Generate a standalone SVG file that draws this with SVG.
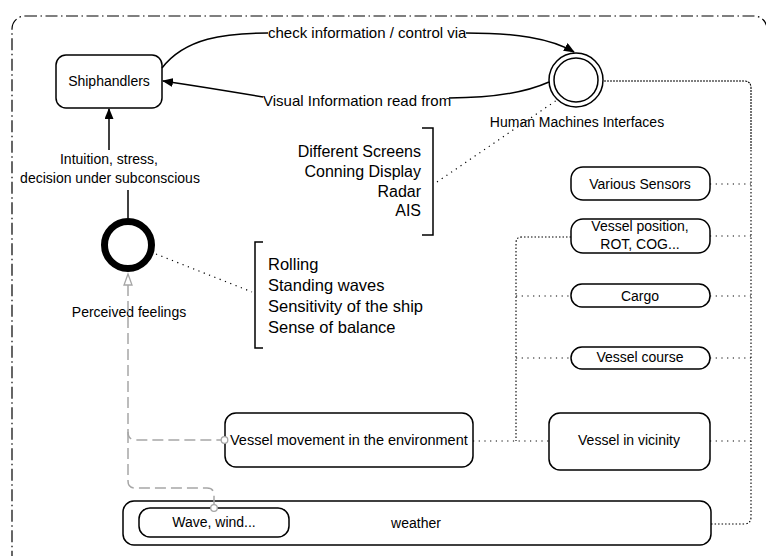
<svg xmlns="http://www.w3.org/2000/svg" width="766" height="556" viewBox="0 0 766 556">
<defs>
<style>
.t{font-family:"Liberation Sans",Arial,sans-serif;font-size:14px;fill:#000}
.c{text-anchor:middle}
.box{fill:#fff;stroke:#000;stroke-width:1.5}
.ln{fill:none;stroke:#000;stroke-width:1.5}
.dot{fill:none;stroke:#000;stroke-width:1.2;stroke-dasharray:1.2,4.5}
.trunk{fill:none;stroke:#000;stroke-width:1.1;stroke-dasharray:1.5,2}
.gray{fill:none;stroke:#a6a6a6;stroke-width:1.5;stroke-dasharray:11,5}
</style>
<marker id="ah" markerUnits="userSpaceOnUse" markerWidth="11" markerHeight="9" refX="10" refY="4.5" orient="auto">
<path d="M0,0 L11,4.5 L0,9 z" fill="#000"/>
</marker>
</defs>
<rect width="766" height="556" fill="#fff"/>
<rect id="frame" x="12" y="16" width="755" height="620" rx="13" fill="none" stroke="#000" stroke-width="1.2" stroke-dasharray="12,3.5,1.5,3.5"/>

<g id="shiphandlers">
<rect class="box" x="56" y="55" width="106" height="53" rx="10"/>
<text class="t c" x="109" y="86">Shiphandlers</text>
</g>

<g id="hmi">
<circle cx="576" cy="80" r="27" fill="#fff" stroke="#000" stroke-width="1.5"/>
<circle cx="576" cy="80" r="22" fill="none" stroke="#000" stroke-width="1.5"/>
<text class="t c" x="577" y="127">Human Machines Interfaces</text>
</g>

<g id="labels">
<text class="t" x="268" y="38" style="font-size:15px">check information / control via</text>
<text class="t" x="263" y="106" style="font-size:15px">Visual Information read from</text>
<text class="t c" x="109" y="164">Intuition, stress,</text>
<text class="t c" x="110" y="183">decision under subconscious</text>
</g>

<g id="perceived">
<circle cx="128" cy="245" r="23.5" fill="#fff" stroke="#000" stroke-width="7"/>
<text class="t c" x="129" y="317">Perceived feelings</text>
</g>

<g id="hmi-list">
<path class="ln" d="M422,128 H433 V235 H422"/>
<text class="t" style="font-size:16px;text-anchor:end" x="421"><tspan x="421" y="157">Different Screens</tspan><tspan x="421" y="177">Conning Display</tspan><tspan x="421" y="197">Radar</tspan><tspan x="421" y="216">AIS</tspan></text>
</g>

<g id="feel-list">
<path class="ln" d="M263,242 H255 V348 H263"/>
<text class="t" style="font-size:16.5px"><tspan x="268" y="270">Rolling</tspan><tspan x="268" y="291">Standing waves</tspan><tspan x="268" y="312">Sensitivity of the ship</tspan><tspan x="268" y="333">Sense of balance</tspan></text>
</g>

<g id="various-sensors">
<rect class="box" x="571" y="167" width="139" height="33" rx="12"/>
<text class="t c" x="640" y="189">Various Sensors</text>
</g>
<g id="vessel-position">
<rect class="box" x="571" y="219" width="139" height="34" rx="12"/>
<text class="t c" x="640" y="231">Vessel position,</text>
<text class="t c" x="640" y="249">ROT, COG...</text>
</g>
<g id="cargo">
<rect class="box" x="571" y="284" width="139" height="23" rx="11"/>
<text class="t c" x="640" y="301">Cargo</text>
</g>
<g id="vessel-course">
<rect class="box" x="571" y="347" width="139" height="22" rx="11"/>
<text class="t c" x="640" y="362">Vessel course</text>
</g>
<g id="vessel-movement">
<rect class="box" x="225" y="413" width="248" height="54" rx="11"/>
<text class="t" x="230" y="445" style="font-size:14.5px">Vessel movement in the environment</text>
</g>
<g id="vessel-vicinity">
<rect class="box" x="549" y="413" width="161" height="57" rx="11"/>
<text class="t c" x="629" y="445">Vessel in vicinity</text>
</g>
<g id="weather">
<rect class="box" x="123" y="501" width="588" height="44" rx="11"/>
<text class="t c" x="416" y="528">weather</text>
</g>
<g id="wave-wind">
<rect class="box" x="139" y="508" width="150" height="29" rx="11"/>
<text class="t c" x="214" y="527">Wave, wind...</text>
</g>

<g id="connectors">
<path class="ln" d="M162,68 C185,38 225,33 268,33"/>
<path class="ln" d="M466,33 C515,33 550,38 574,52" marker-end="url(#ah)"/>
<path class="ln" d="M549,82 C520,95 480,98 449,98"/>
<path class="ln" d="M263,97 Q210,88 163,81" marker-end="url(#ah)"/>
<path class="ln" d="M109,150 V109" marker-end="url(#ah)"/>
<path class="ln" d="M128,190 V218"/>
<path class="dot" d="M437,182 L557,100"/>
<path class="dot" d="M156,254 L252,292"/>
<path class="gray" d="M128,285 V432 Q128,440 136,440 H221"/>
<path class="gray" d="M128,432 V481 Q128,488 135,488 H207 Q214,488 214,495 V505"/>
<path d="M128,274 L124,285 L132,285 z" fill="#fff" stroke="#a6a6a6" stroke-width="1.3"/>
<circle cx="224.5" cy="440" r="3.3" fill="#fff" stroke="#a6a6a6" stroke-width="1.3"/>
<circle cx="214" cy="508" r="3.3" fill="#fff" stroke="#a6a6a6" stroke-width="1.3"/>
<path fill="none" stroke="#000" stroke-width="1.1" stroke-dasharray="2,1" d="M604,81 H744 Q751,81 751,88 V150"/>
<path class="trunk" d="M751,150 V517 Q751,524 744,524 H711"/>
<path class="dot" d="M710,184 H751 M710,236 H751 M710,296 H751 M710,358 H751 M710,441 H751"/>
<path class="trunk" d="M571,237 H522 Q516,237 516,243 V441"/>
<path class="dot" d="M516,296 H571 M516,358 H571 M473,441 H549"/>
</g>
</svg>
